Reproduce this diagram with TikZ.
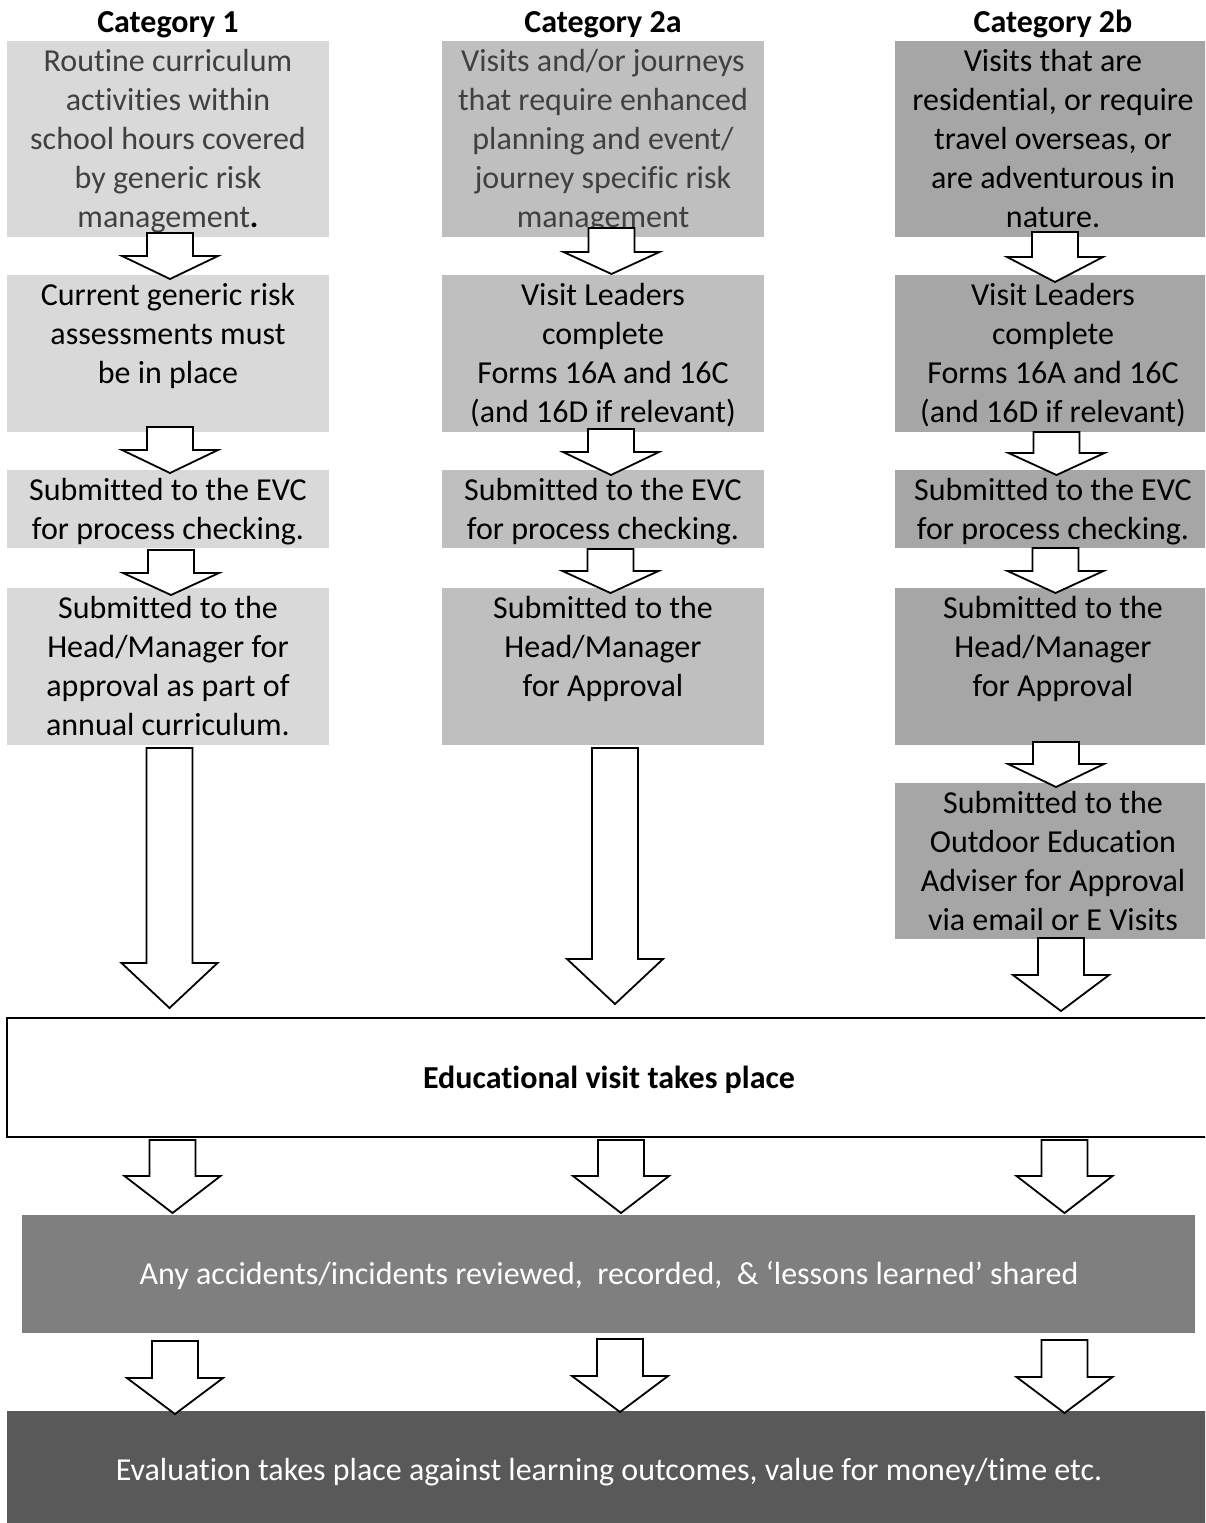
\documentclass[tikz,border=0pt]{standalone}
\usepackage{fontspec}
\setmainfont{Carlito}[Ligatures={NoCommon}]
\usetikzlibrary{calc}
\definecolor{cA}{HTML}{D9D9D9}
\definecolor{cB}{HTML}{BFBFBF}
\definecolor{cC}{HTML}{A6A6A6}
\definecolor{cD}{HTML}{7F7F7F}
\definecolor{cE}{HTML}{595959}
\definecolor{tg}{HTML}{404040}
\tikzset{
  box/.style={draw=none, inner sep=0pt, outer sep=0pt},
  txt/.style={inner sep=0pt, outer sep=0pt, align=center, anchor=north, font=\fontsize{32}{39}\selectfont},
  onel/.style={inner sep=0pt, outer sep=0pt, anchor=base, font=\fontsize{32}{39}\selectfont},
  ttl/.style={onel, font=\fontsize{32}{39}\selectfont\bfseries},
  blockarrow/.style={draw=black, fill=white, line width=1.8pt, line join=miter},
}
\newcommand\bx[6]{\node[box,fill=#2,minimum width={#5-#3},minimum height={#6-#4},anchor=north west] (#1) at (#3,#4) {};}
% from node, to node, x coordinate name, top overlap, tip overlap, head length
\newcommand\barrow[6]{%
  \path[blockarrow] let \p1=(#1.south -| #3), \p2=(#2.north -| #3) in
    ({\x1-23pt},{\y1+(#4)}) -- ({\x1+23pt},{\y1+(#4)}) -- ({\x1+23pt},{\y2-(#5)+(#6)})
    -- ({\x1+48pt},{\y2-(#5)+(#6)}) -- (\x1,{\y2-(#5)}) -- ({\x1-48pt},{\y2-(#5)+(#6)})
    -- ({\x1-23pt},{\y2-(#5)+(#6)}) -- cycle;}
\begin{document}
\begin{tikzpicture}[x=1pt,y=-1pt]
\clip (0,0) rectangle (1205,1523);
\fill[white] (0,0) rectangle (1205,1523);

% titles
\node[ttl] (h1) at (168,32) {Category 1};
\node[ttl] (h2) at (603,32) {Category 2a};
\node[ttl] (h3) at (1053,32) {Category 2b};

% column 1 boxes
\bx{b11}{cA}{7}{41}{329}{237}
\bx{b12}{cA}{7}{275}{329}{432}
\bx{b13}{cA}{7}{470}{329}{548}
\bx{b14}{cA}{7}{588}{329}{745}
% column 2 boxes
\bx{b21}{cB}{442}{41}{764}{237}
\bx{b22}{cB}{442}{275}{764}{432}
\bx{b23}{cB}{442}{470}{764}{548}
\bx{b24}{cB}{442}{588}{764}{745}
% column 3 boxes
\bx{b31}{cC}{895}{41}{1211}{237}
\bx{b32}{cC}{895}{275}{1211}{432}
\bx{b33}{cC}{895}{470}{1211}{548}
\bx{b34}{cC}{895}{588}{1211}{745}
\bx{b35}{cC}{895}{783}{1211}{939}
% wide boxes
\node[box,draw=black,line width=1.2pt,fill=white,minimum width=1204,minimum height=119,anchor=north west] (edu) at (7,1018) {};
\bx{acc}{cD}{22}{1215}{1195}{1333}
\bx{eva}{cE}{7}{1411}{1211}{1530}

% texts
\node[txt,text=tg] (t11) at (b11.north) {\rule{0pt}{30pt}Routine curriculum\\activities within\\school hours covered\\by generic risk\\management\textcolor{black}{\textbf{.}}};
\node[txt,text=tg] (t21) at (b21.north) {\rule{0pt}{30pt}Visits and/or journeys\\that require enhanced\\planning and event/\\journey specific risk\\management};
\node[txt] (t31) at (b31.north) {\rule{0pt}{30pt}Visits that are\\residential, or require\\travel overseas, or\\are adventurous in\\nature.};

\node[txt] (t12) at (b12.north) {\rule{0pt}{30pt}Current generic risk\\assessments must\\be in place};
\node[txt] (t22) at (b22.north) {\rule{0pt}{30pt}Visit Leaders\\complete\\Forms 16A and 16C\\(and 16D if relevant)};
\node[txt] (t32) at (b32.north) {\rule{0pt}{30pt}Visit Leaders\\complete\\Forms 16A and 16C\\(and 16D if relevant)};

\node[txt] (t13) at (b13.north) {\rule{0pt}{30pt}Submitted to the EVC\\for process checking.};
\node[txt] (t23) at (b23.north) {\rule{0pt}{30pt}Submitted to the EVC\\for process checking.};
\node[txt] (t33) at (b33.north) {\rule{0pt}{30pt}Submitted to the EVC\\for process checking.};

\node[txt] (t14) at (b14.north) {\rule{0pt}{30pt}Submitted to the\\Head/Manager for\\approval as part of\\annual curriculum.};
\node[txt] (t24) at (b24.north) {\rule{0pt}{30pt}Submitted to the\\Head/Manager\\for Approval};
\node[txt] (t34) at (b34.north) {\rule{0pt}{30pt}Submitted to the\\Head/Manager\\for Approval};

\node[txt] (t35) at (b35.north) {\rule{0pt}{30pt}Submitted to the\\Outdoor Education\\Adviser for Approval\\via email or E Visits};

\node[ttl] (tedu) at (609,1088) {Educational visit takes place};
\node[onel,text=white] (tacc) at (609,1284) {Any accidents/incidents reviewed,\ \ recorded,\ \ \& ‘lessons learned’ shared};
\node[onel,text=white] (teva) at (609,1480) {Evaluation takes place against learning outcomes, value for money/time etc.};

% arrow x positions
\coordinate (xa1) at (170,0);
\coordinate (xa2) at (170,0);
\coordinate (xa3) at (171,0);
\coordinate (xa4) at (169.5,0);
\coordinate (xb1) at (611.5,0);
\coordinate (xb2) at (611,0);
\coordinate (xb3) at (610.5,0);
\coordinate (xb4) at (615,0);
\coordinate (xc1) at (1055,0);
\coordinate (xc2) at (1056.5,0);
\coordinate (xc3) at (1055.5,0);
\coordinate (xc4) at (1056,0);
\coordinate (xc5) at (1061,0);
\coordinate (xd1) at (172.5,0);
\coordinate (xd2) at (621,0);
\coordinate (xd3) at (1064.5,0);
\coordinate (xe1) at (175,0);
\coordinate (xe2) at (620,0);
\coordinate (xe3) at (1064.5,0);

% arrows
\barrow{b11}{b12}{xa1}{4pt}{4pt}{23pt}
\barrow{b12}{b13}{xa2}{5pt}{3pt}{23pt}
\barrow{b13}{b14}{xa3}{-2pt}{7pt}{22pt}
\barrow{b14}{edu}{xa4}{-3pt}{-10pt}{45pt}

\barrow{b21}{b22}{xb1}{9pt}{-1pt}{22pt}
\barrow{b22}{b23}{xb2}{3pt}{5pt}{23pt}
\barrow{b23}{b24}{xb3}{-1pt}{5pt}{22pt}
\barrow{b24}{edu}{xb4}{-3pt}{-14pt}{45pt}

\barrow{b31}{b32}{xc1}{5pt}{7pt}{25pt}
\barrow{b32}{b33}{xc2}{0pt}{5pt}{22pt}
\barrow{b33}{b34}{xc3}{0pt}{5pt}{22pt}
\barrow{b34}{b35}{xc4}{3pt}{4pt}{23pt}
\barrow{b35}{edu}{xc5}{1pt}{-7pt}{36pt}

\barrow{edu}{acc}{xd1}{-3pt}{-2pt}{37pt}
\barrow{edu}{acc}{xd2}{-3pt}{-2pt}{37pt}
\barrow{edu}{acc}{xd3}{-3pt}{-2pt}{37pt}

\barrow{acc}{eva}{xe1}{-8pt}{3pt}{36pt}
\barrow{acc}{eva}{xe2}{-6pt}{1pt}{36pt}
\barrow{acc}{eva}{xe3}{-7pt}{2pt}{36pt}
\end{tikzpicture}
\end{document}
